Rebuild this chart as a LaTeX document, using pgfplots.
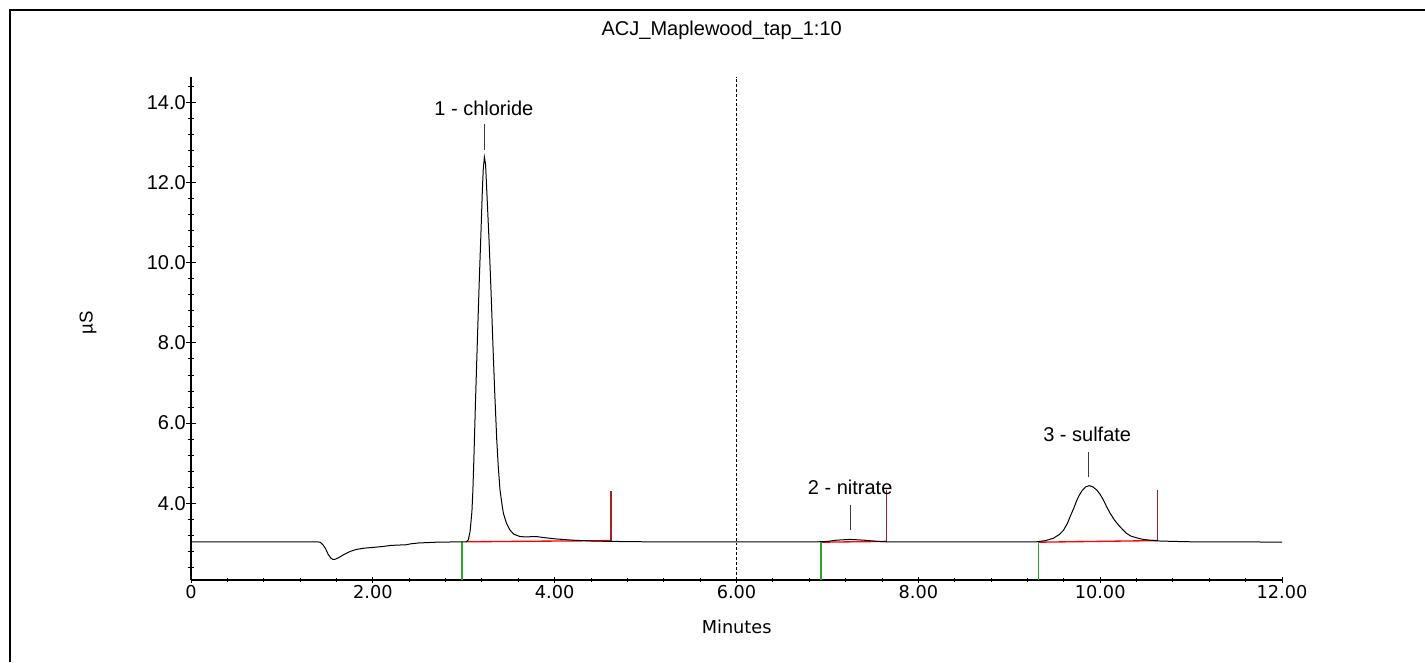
\documentclass[border=0pt]{standalone}
\usepackage{fontspec}
\setmainfont{Liberation Sans}
\newfontfamily\tahoma{DejaVu Sans}
\usepackage{pgfplots}
\pgfplotsset{compat=1.18}

\definecolor{peakgreen}{RGB}{40,170,40}
\definecolor{peakbrown}{RGB}{160,35,35}
\definecolor{labelgray}{RGB}{60,60,60}

\begin{document}
% 1 px of the reference = 0.75pt
\begin{tikzpicture}
  \path[use as bounding box] (0,0) rectangle (1068.75pt,496.5pt);
  \draw[line width=1.3pt] (7.5pt,0) -- (7.5pt,489pt) -- (1070pt,489pt);

  \node[anchor=base, font=\fontsize{15}{18}\selectfont] at (541.3pt,469.5pt) {ACJ\_Maplewood\_tap\_1:10};
  \node[rotate=90, font=\fontsize{14}{16}\selectfont] at (66pt,254.25pt) {µS};
  \node[anchor=base, font=\tahoma\fontsize{13.3}{16}\selectfont] at (552.5pt,21.5pt) {Minutes};

  \begin{axis}[
    at={(143.25pt,61.5pt)}, anchor=south west,
    scale only axis,
    width=818.25pt, height=377.5pt,
    xmin=0, xmax=12,
    ymin=2.087, ymax=14.64,
    axis x line=bottom, axis y line=left,
    axis line style={-, line width=0.8pt},
    xtick={0,2,4,6,8,10,12},
    xticklabels={0,2.00,4.00,6.00,8.00,10.00,12.00},
    minor xtick={0.4,0.8,1.2,1.6,2.4,2.8,3.2,3.6,4.4,4.8,5.2,5.6,6.4,6.8,7.2,7.6,8.4,8.8,9.2,9.6,10.4,10.8,11.2,11.6},
    ytick={4,6,8,10,12,14},
    yticklabels={4.0,6.0,8.0,10.0,12.0,14.0},
    minor ytick={2.4,2.8,3.2,3.6,4.4,4.8,5.2,5.6,6.4,6.8,7.2,7.6,8.4,8.8,9.2,9.6,10.4,10.8,11.2,11.6,12.4,12.8,13.2,13.6,14.4},
    tick align=center,
    major tick length=7.5pt,
    minor tick length=4.5pt,
    xtick style={/pgfplots/major tick length=4.5pt, /pgfplots/minor tick length=3pt},
    every tick/.style={black, line width=0.7pt},
    xticklabel style={font=\tahoma\fontsize{13.3}{16}\selectfont, anchor=north, inner sep=0pt},
    yticklabel style={font=\fontsize{15}{18}\selectfont, anchor=east, inner sep=0pt},
    clip=false,
  ]

  % dashed marker at 6 min
  \addplot[black, line width=0.6pt, dash pattern=on 2.2pt off 1.5pt] coordinates {(6,2.087) (6,14.64)};

  % integration baselines
  \addplot[red, line width=1pt] coordinates {(3.03,3.04) (4.62,3.07)};
  \addplot[red, line width=1pt] coordinates {(6.93,3.03) (7.65,3.05)};
  \addplot[red, line width=1pt] coordinates {(9.32,3.03) (10.63,3.07)};

  % peak start markers
  \addplot[peakgreen, line width=1pt] coordinates {(2.98,2.087) (2.98,3.04)};
  \addplot[peakgreen, line width=1pt] coordinates {(6.93,2.087) (6.93,3.03)};
  \addplot[peakgreen, line width=1pt] coordinates {(9.32,2.087) (9.32,3.03)};

  % peak end markers
  \addplot[peakbrown, line width=1pt] coordinates {(4.62,3.06) (4.62,4.31)};
  \addplot[peakbrown, line width=1pt] coordinates {(7.65,3.04) (7.65,4.33)};
  \addplot[peakbrown, line width=1pt] coordinates {(10.63,3.06) (10.63,4.33)};

  % chromatogram trace
  \addplot[black, line width=0.75pt] coordinates {
    (0,3.04) (0.5,3.04) (1.0,3.04) (1.2,3.04) (1.38,3.04) (1.42,3.03)
    (1.45,2.97) (1.48,2.87) (1.51,2.72) (1.54,2.63) (1.56,2.60) (1.58,2.60)
    (1.62,2.64) (1.68,2.72) (1.75,2.80) (1.82,2.85) (1.90,2.88) (2.0,2.90)
    (2.1,2.92) (2.2,2.95) (2.3,2.96) (2.35,2.96) (2.42,2.99) (2.5,3.01)
    (2.6,3.02) (2.7,3.03) (2.8,3.03) (2.9,3.04) (3.0,3.04) (3.03,3.04)
    (3.05,3.09) (3.07,3.30) (3.09,3.80) (3.10,4.30) (3.11,5.0) (3.13,6.6)
    (3.15,8.07) (3.17,9.5) (3.19,10.8) (3.205,11.83) (3.215,12.35) (3.227,12.63)
    (3.24,12.45) (3.253,11.81) (3.278,10.57) (3.30,9.3) (3.319,8.07) (3.34,6.8)
    (3.363,5.58) (3.38,4.9) (3.399,4.33) (3.42,3.98) (3.436,3.75) (3.47,3.50)
    (3.509,3.33) (3.55,3.23) (3.619,3.17) (3.7,3.16) (3.75,3.17) (3.80,3.17)
    (3.9,3.14) (4.02,3.11) (4.2,3.08) (4.4,3.06) (4.6,3.05) (5.0,3.04)
    (5.5,3.04) (6.0,3.04) (6.5,3.04) (6.9,3.04) (7.0,3.05) (7.1,3.08)
    (7.25,3.10) (7.4,3.08) (7.55,3.05) (7.65,3.04) (8.0,3.04) (8.5,3.04)
    (9.0,3.04) (9.3,3.04) (9.4,3.07) (9.486,3.13) (9.55,3.22) (9.597,3.33)
    (9.64,3.50) (9.67,3.67) (9.71,3.88) (9.744,4.08) (9.77,4.20) (9.799,4.31)
    (9.84,4.41) (9.879,4.44) (9.92,4.41) (9.963,4.33) (10.0,4.22) (10.036,4.08)
    (10.07,3.92) (10.11,3.75) (10.155,3.59) (10.20,3.46) (10.25,3.34) (10.29,3.25)
    (10.34,3.18) (10.40,3.14) (10.47,3.10) (10.55,3.08) (10.65,3.06) (10.8,3.05)
    (11.0,3.04) (11.5,3.04) (12.0,3.03)
  };

  % peak label leaders
  \addplot[labelgray, line width=0.75pt] coordinates {(3.227,12.82) (3.227,13.45)};
  \addplot[labelgray, line width=0.75pt] coordinates {(7.25,3.33) (7.25,3.96)};
  \addplot[labelgray, line width=0.75pt] coordinates {(9.87,4.66) (9.87,5.29)};

  \node[anchor=base, font=\fontsize{15}{18}\selectfont] at (axis cs:3.221,13.68) {1 - chloride};
  \node[anchor=base, font=\fontsize{15}{18}\selectfont] at (axis cs:7.25,4.23) {2 - nitrate};
  \node[anchor=base, font=\fontsize{15}{18}\selectfont] at (axis cs:9.857,5.55) {3 - sulfate};

  \end{axis}
\end{tikzpicture}
\end{document}
